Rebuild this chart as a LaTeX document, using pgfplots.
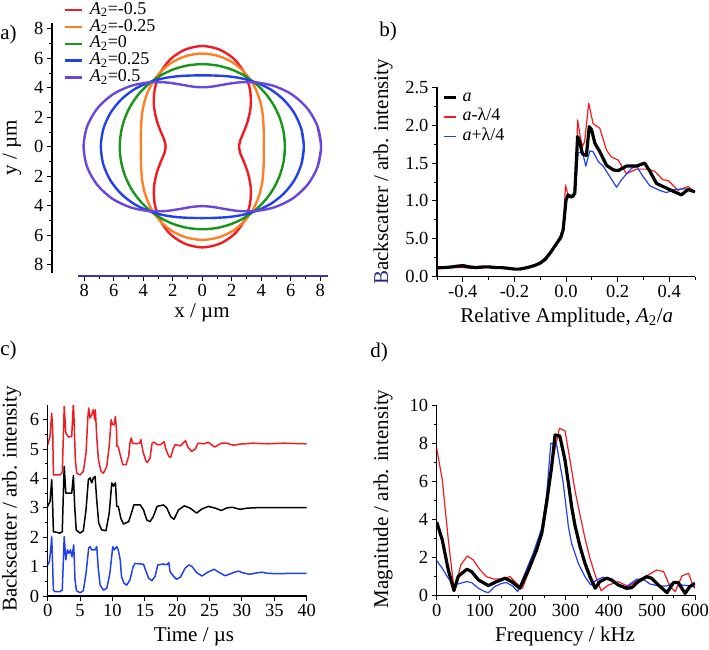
\documentclass[border=0pt]{standalone}
\usepackage{fontspec}
\setmainfont{Liberation Serif}
\usepackage{pgfplots}
\pgfplotsset{compat=1.18}
\usepackage{pgfplotstable}

\definecolor{cR}{RGB}{240,28,36}
\definecolor{cO}{RGB}{255,127,39}
\definecolor{cG}{RGB}{25,150,25}
\definecolor{cB}{RGB}{35,65,235}
\definecolor{cP}{RGB}{105,70,220}
\definecolor{cNavy}{RGB}{40,40,130}
\definecolor{cAx}{RGB}{60,60,150}

\newcommand{\tfont}{\fontsize{18.5}{18.5}\selectfont}
\newcommand{\lfont}{\fontsize{21}{21}\selectfont}

\pgfplotstableread{
t r1 r2 r3 r4 r5
-10 2.62 4.23 5.60 6.82 7.93
0 2.49 4.16 5.60 6.88 8.05
10 2.62 4.23 5.60 6.82 7.93
20 3.00 4.41 5.60 6.64 7.58
30 3.57 4.70 5.60 6.37 7.05
40 4.28 5.05 5.60 6.04 6.39
50 5.03 5.43 5.60 5.68 5.69
60 5.74 5.78 5.60 5.35 5.04
70 6.32 6.07 5.60 5.08 4.50
80 6.69 6.25 5.60 4.90 4.15
90 6.83 6.32 5.60 4.84 4.03
100 6.69 6.25 5.60 4.90 4.15
110 6.32 6.07 5.60 5.08 4.50
120 5.74 5.78 5.60 5.35 5.04
130 5.03 5.43 5.60 5.68 5.69
140 4.28 5.05 5.60 6.04 6.39
150 3.57 4.70 5.60 6.37 7.05
160 3.00 4.41 5.60 6.64 7.58
170 2.62 4.23 5.60 6.82 7.93
180 2.49 4.16 5.60 6.88 8.05
190 2.62 4.23 5.60 6.82 7.93
200 3.00 4.41 5.60 6.64 7.58
210 3.57 4.70 5.60 6.37 7.05
220 4.28 5.05 5.60 6.04 6.39
230 5.03 5.43 5.60 5.68 5.69
240 5.74 5.78 5.60 5.35 5.04
250 6.32 6.07 5.60 5.08 4.50
260 6.69 6.25 5.60 4.90 4.15
270 6.83 6.32 5.60 4.84 4.03
280 6.69 6.25 5.60 4.90 4.15
290 6.32 6.07 5.60 5.08 4.50
300 5.74 5.78 5.60 5.35 5.04
310 5.03 5.43 5.60 5.68 5.69
320 4.28 5.05 5.60 6.04 6.39
330 3.57 4.70 5.60 6.37 7.05
340 3.00 4.41 5.60 6.64 7.58
350 2.62 4.23 5.60 6.82 7.93
360 2.49 4.16 5.60 6.88 8.05
370 2.62 4.23 5.60 6.82 7.93
}\shapes

\pgfplotsset{
  every axis/.append style={
    scale only axis,
    axis line style={-, line width=1.1pt, black},
    tick style={line width=0.9pt, black},
    tick align=outside,
    major tick length=5pt,
    minor tick length=3pt,
    tick label style={font=\tfont},
    label style={font=\lfont},
    /pgf/number format/assume math mode=true,
  }
}

\begin{document}
\begin{tikzpicture}
\useasboundingbox (0pt,0pt) rectangle (709pt,649pt);

% ---------------- panel a: data axis with x axis ----------------
\begin{axis}[
  at={(78pt,373pt)}, anchor=south west,
  width=250pt, height=253pt,
  xmin=-8.43, xmax=8.52, ymin=-8.77, ymax=8.39,
  axis x line*=bottom, axis y line=none,
  x axis line style={cAx},
  xtick={-8,-6,...,8}, xticklabels={8,6,4,2,0,2,4,6,8},
  minor xtick={-7,-5,...,7},
  xlabel={x / µm},
  xlabel style={at={(axis description cs:0.496,0)}, anchor=center, yshift=-37pt},
  clip=false,
  legend style={draw=none, fill=none, at={(axis description cs:-0.0588,1.083)}, anchor=north west,
    font=\fontsize{18}{18}\selectfont, inner sep=0pt, row sep=0.8pt,
    nodes={inner sep=0pt, text height=12pt, text depth=4pt},
    /tikz/every odd column/.append style={column sep=7pt}},
  legend cell align=left,
  legend image code/.code={\draw[#1] (0pt,0pt) -- (17pt,0pt);},
]
\addplot[cR, line width=2.4pt, smooth] table[data cs=polar, x=t, y=r1] {\shapes};
\addlegendentry{\textit{A}\textsubscript{2}=-0.5}
\addplot[cO, line width=2.4pt, smooth] table[data cs=polar, x=t, y=r2] {\shapes};
\addlegendentry{\textit{A}\textsubscript{2}=-0.25}
\addplot[cG, line width=2.4pt, smooth] table[data cs=polar, x=t, y=r3] {\shapes};
\addlegendentry{\textit{A}\textsubscript{2}=0}
\addplot[cB, line width=2.4pt, smooth] table[data cs=polar, x=t, y=r4] {\shapes};
\addlegendentry{\textit{A}\textsubscript{2}=0.25}
\addplot[cP, line width=2.4pt, smooth] table[data cs=polar, x=t, y=r5] {\shapes};
\addlegendentry{\textit{A}\textsubscript{2}=0.5}
\end{axis}

% ---------------- panel a: y axis ----------------
\begin{axis}[
  at={(52pt,376pt)}, anchor=south west,
  width=20pt, height=250pt,
  xmin=0, xmax=1, ymin=-8.56, ymax=8.39,
  axis y line*=left, axis x line=none,
  ytick={-8,-6,...,8}, yticklabels={8,6,4,2,0,2,4,6,8},
  minor ytick={-7,-5,...,7},
  ylabel={y / µm},
  ylabel style={at={(axis description cs:-2.0,0.5)}, anchor=center},
]
\addplot[draw=none, forget plot] coordinates {(0,0)};
\end{axis}

% ---------------- panel b ----------------
\begin{axis}[
  at={(437pt,372.3pt)}, anchor=south west,
  width=258pt, height=189.4pt,
  xmin=-0.5, xmax=0.5, ymin=0, ymax=2.5,
  axis lines*=left,
  xtick={-0.4,-0.2,0,0.2,0.4}, xticklabels={-0.4,-0.2,0.0,0.2,0.4},
  minor xtick={-0.5,-0.3,-0.1,0.1,0.3,0.5},
  ytick={0,0.5,1,1.5,2,2.5}, yticklabels={0.0,5.0,1.0,1.5,2.0,2.5},
  minor y tick num=1,
  xlabel={Relative Amplitude, \textit{A}\textsubscript{2}/\textit{a}},
  xlabel style={at={(axis description cs:0.503,0)}, anchor=center, yshift=-41pt},
  ylabel={{\color{cNavy}B}ackscatter / arb. intensity},
  ylabel style={at={(axis description cs:-0.209,0.553)}, anchor=center},
  legend style={draw=none, fill=none, at={(axis description cs:0.023,0.995)}, anchor=north west,
    font=\fontsize{18}{18}\selectfont, inner sep=0pt, row sep=1.5pt,
    nodes={inner sep=0pt, text height=13pt, text depth=5pt},
    /tikz/every odd column/.append style={column sep=5pt}},
  legend cell align=left,
  legend image code/.code={\draw[#1] (0pt,0pt) -- (12pt,0pt);},
]
\addplot[cR, line width=1.2pt, line join=round, forget plot] coordinates {
(-0.5,0.10) (-0.45,0.12) (-0.42,0.12) (-0.40,0.12) (-0.35,0.11) (-0.30,0.12) (-0.25,0.11) (-0.20,0.10) (-0.15,0.12) (-0.10,0.18) (-0.06,0.33) (-0.03,0.48) (-0.01,0.64) (-0.002,1.21) (0.01,1.05) (0.03,1.05) (0.036,1.14) (0.045,2.07) (0.055,1.85) (0.064,1.72) (0.072,1.78) (0.088,2.29) (0.105,2.02) (0.131,1.96) (0.157,1.67) (0.176,1.58) (0.202,1.54) (0.234,1.36) (0.273,1.42) (0.318,1.42) (0.344,1.39) (0.376,1.28) (0.396,1.27) (0.434,1.14) (0.473,1.19) (0.5,1.12)};
\addplot[cB, line width=1.2pt, line join=round, forget plot] coordinates {
(-0.5,0.12) (-0.45,0.13) (-0.42,0.14) (-0.40,0.16) (-0.37,0.14) (-0.35,0.13) (-0.30,0.13) (-0.25,0.12) (-0.20,0.10) (-0.15,0.12) (-0.10,0.18) (-0.06,0.31) (-0.03,0.47) (-0.01,0.62) (0.0,1.02) (0.01,1.05) (0.03,1.05) (0.036,1.10) (0.047,1.64) (0.064,1.64) (0.077,1.46) (0.092,1.66) (0.105,1.65) (0.125,1.52) (0.144,1.46) (0.170,1.32) (0.196,1.18) (0.215,1.28) (0.254,1.43) (0.273,1.46) (0.299,1.32) (0.325,1.20) (0.363,1.14) (0.389,1.11) (0.421,1.15) (0.460,1.16) (0.5,1.12)};
\addplot[black, line width=3.2pt, line join=round, forget plot] coordinates {
(-0.5,0.12) (-0.47,0.12) (-0.44,0.13) (-0.42,0.14) (-0.40,0.145) (-0.38,0.13) (-0.35,0.12) (-0.32,0.13) (-0.30,0.13) (-0.27,0.12) (-0.25,0.12) (-0.22,0.11) (-0.20,0.10) (-0.18,0.10) (-0.15,0.12) (-0.12,0.15) (-0.10,0.18) (-0.08,0.23) (-0.06,0.32) (-0.05,0.37) (-0.04,0.42) (-0.03,0.47) (-0.02,0.52) (-0.011,0.62) (0.0,1.01) (0.008,1.08) (0.021,1.05) (0.034,1.10) (0.045,1.85) (0.053,1.78) (0.064,1.62) (0.079,1.60) (0.090,1.98) (0.099,1.94) (0.112,1.76) (0.131,1.65) (0.157,1.47) (0.183,1.41) (0.202,1.40) (0.234,1.46) (0.273,1.46) (0.305,1.50) (0.325,1.39) (0.351,1.23) (0.389,1.17) (0.421,1.12) (0.447,1.08) (0.473,1.15) (0.5,1.12)};
\addlegendimage{black, line width=2.4pt}
\addlegendentry{\textit{a}}
\addlegendimage{cR, line width=1.2pt}
\addlegendentry{\textit{a}-λ/4}
\addlegendimage{cB, line width=1.2pt}
\addlegendentry{\textit{a}+λ/4}
\end{axis}

% ---------------- panel c ----------------
\begin{axis}[
  at={(47.7pt,53pt)}, anchor=south west,
  width=259pt, height=191pt,
  xmin=0, xmax=40, ymin=0, ymax=6.5,
  axis lines*=left,
  xtick={0,5,...,40},
  ytick={0,1,...,6}, minor y tick num=1,
  xlabel={Time / µs},
  xlabel style={at={(axis description cs:0.565,0)}, anchor=center, yshift=-40.7pt},
  ylabel={Backscatter / arb. intensity},
  ylabel style={at={(axis description cs:-0.139,0.508)}, anchor=center},
]
\addplot[cR, line width=1.5pt, line join=round] coordinates {
(0,5.15) (0.36,5.43) (0.62,6.22) (0.77,5.66) (0.88,4.12) (1.9,4.12) (2.25,4.2) (2.45,5.66) (2.55,6.45) (2.8,5.55) (3.2,5.41) (3.71,5.43) (3.97,6.6) (4.12,5.66) (4.27,4.64) (4.48,4.18) (5.0,4.12) (5.5,4.24) (5.92,4.86) (6.18,6.0) (6.33,6.4) (6.54,6.06) (6.8,6.17) (7.05,6.34) (7.26,6.0) (7.36,6.34) (7.57,5.43) (7.83,4.64) (8.24,4.24) (8.6,4.18) (9.12,4.41) (9.5,5.09) (9.8,6.0) (10.0,5.83) (10.25,5.83) (10.46,6.11) (10.62,5.66) (10.7,5.09) (10.9,5.09) (11.2,4.8) (11.6,4.47) (12.1,4.47) (12.5,4.75) (12.7,5.2) (12.9,5.38) (13.1,5.2) (13.7,5.18) (14.2,5.2) (14.4,5.32) (14.7,4.92) (15.2,4.58) (15.4,4.55) (15.8,4.69) (16.1,5.18) (16.4,5.24) (16.9,5.15) (17.4,5.15) (18.0,5.25) (18.2,5.03) (18.7,4.75) (19.0,4.72) (19.4,5.03) (19.7,5.15) (20.5,5.11) (21.3,5.29) (21.6,5.09) (22.2,4.92) (22.8,5.0) (23.2,5.2) (24.1,5.18) (24.8,5.23) (25.8,5.07) (26.8,5.2) (27.7,5.2) (28.7,5.13) (29.7,5.17) (31.8,5.2) (33.9,5.18) (36.4,5.2) (40,5.18)};
\addplot[black, line width=1.5pt, line join=round] coordinates {
(0,3.05) (0.36,3.22) (0.62,3.96) (0.77,3.05) (0.88,2.19) (1.9,2.14) (2.25,2.19) (2.42,3.5) (2.55,4.41) (2.8,3.5) (3.71,3.5) (3.97,4.1) (4.17,3.05) (4.4,2.25) (5.0,2.14) (5.5,2.22) (5.92,2.93) (6.28,3.96) (6.54,4.02) (6.8,3.85) (7.05,4.02) (7.31,4.07) (7.57,3.27) (7.88,2.48) (8.34,2.25) (9.0,2.22) (9.5,2.82) (9.9,3.85) (10.15,3.74) (10.46,3.85) (10.67,3.05) (10.9,3.05) (11.3,2.64) (11.7,2.45) (12.5,2.53) (13.0,2.87) (13.3,3.1) (14.3,3.1) (14.8,2.93) (15.3,2.59) (15.8,2.53) (16.3,2.7) (16.9,3.05) (17.3,3.07) (17.9,3.1) (18.4,2.99) (19.0,2.7) (19.5,2.61) (20.2,2.93) (21.1,3.07) (22.0,2.99) (23.0,2.82) (23.8,2.96) (24.8,3.05) (25.9,2.99) (26.8,2.91) (27.7,3.0) (28.5,3.02) (29.7,2.95) (30.8,2.99) (32.8,3.01) (35.9,3.01) (40,3.01)};
\addplot[cB, line width=1.5pt, line join=round] coordinates {
(0,1.05) (0.26,1.17) (0.46,1.57) (0.62,2.02) (0.77,1.0) (0.88,0.2) (1.13,0.15) (1.9,0.15) (2.25,0.2) (2.42,1.23) (2.55,2.02) (2.8,1.23) (3.05,1.57) (3.3,1.45) (3.5,1.57) (3.75,1.34) (4.02,1.74) (4.22,0.55) (4.45,0.18) (5.0,0.11) (5.5,0.18) (5.92,0.77) (6.33,1.63) (6.54,1.68) (6.8,1.57) (7.31,1.57) (7.57,1.68) (7.83,0.89) (8.1,0.37) (8.6,0.2) (9.12,0.26) (9.6,0.77) (10.05,1.68) (10.25,1.57) (10.67,1.68) (10.9,1.57) (11.2,1.23) (11.4,0.66) (11.8,0.43) (12.2,0.37) (12.7,0.55) (13.2,1.0) (13.5,1.11) (14.8,1.08) (15.1,0.89) (15.6,0.6) (16.1,0.52) (16.6,0.68) (17.0,1.06) (17.9,1.09) (18.4,1.06) (18.7,1.14) (18.9,0.83) (19.4,0.68) (19.9,0.57) (20.5,0.64) (21.2,0.94) (21.8,1.06) (22.3,1.0) (23.0,0.8) (23.8,0.68) (24.8,0.82) (25.7,0.91) (26.5,0.8) (27.4,0.69) (28.5,0.78) (29.4,0.85) (30.3,0.78) (31.2,0.74) (32.1,0.78) (33.0,0.81) (34.0,0.77) (35.5,0.76) (37.5,0.77) (40,0.77)};
\end{axis}

% ---------------- panel d ----------------
\begin{axis}[
  at={(436.7pt,53.7pt)}, anchor=south west,
  width=258.3pt, height=190pt,
  xmin=0, xmax=600, ymin=0, ymax=10,
  axis lines*=left,
  xtick={0,100,...,600}, minor x tick num=1,
  ytick={0,2,...,10}, minor y tick num=1,
  xlabel={Frequency / kHz},
  xlabel style={at={(axis description cs:0.497,0)}, anchor=center, yshift=-41.4pt},
  ylabel={Magnitude / arb. intensity},
  ylabel style={at={(axis description cs:-0.208,0.507)}, anchor=center},
]
\addplot[cR, line width=1.2pt, line join=round] coordinates {
(0,7.74) (13,6.07) (27,2.91) (41,0.19) (56,1.6) (71,2.07) (85,1.86) (101,1.33) (116,0.98) (132,0.86) (151,0.86) (170,0.98) (190,0.54) (199,0.37) (217,1.42) (232,2.3) (248,3.53) (259,5.19) (271,7.3) (285,8.79) (298,8.66) (309.6,7.12) (321,5.54) (333,4.23) (344.5,2.99) (356,1.95) (368,1.07) (382,0.24) (398.7,0.54) (422,0.72) (445,0.46) (468,0.81) (491,1.07) (511,1.33) (527,1.25) (542,0.46) (554,0.19) (569.7,1.02) (585,1.16) (596,0.46) (600,0.37)};
\addplot[cB, line width=1.2pt, line join=round] coordinates {
(0,1.82) (13,1.42) (27,0.9) (41,0.54) (54,0.63) (69.6,0.72) (81,0.67) (97,0.37) (112,0.19) (120,0.14) (135,0.46) (151,0.63) (162,0.67) (178,0.46) (188,0.19) (205,1.16) (224,2.21) (244,3.53) (255,5.19) (265,8.0) (278,8.0) (294,5.89) (306,3.6) (313.5,2.72) (329,1.68) (344.5,0.98) (358,0.54) (371,0.81) (387,0.95) (402,0.81) (422,0.54) (437,0.4) (464,0.84) (480,0.84) (495,0.6) (515,0.49) (535,0.49) (554,0.72) (569.7,0.54) (600,0.46)};
\addplot[black, line width=3.2pt, line join=round] coordinates {
(0,3.85) (13,2.91) (27,1.33) (40,0.25) (50,1.0) (70,1.37) (81,1.25) (97,0.81) (120,0.51) (139,0.72) (159,0.9) (174,0.72) (193,0.37) (213,1.33) (232,2.39) (244,3.26) (255,4.84) (267,6.77) (275,8.44) (286,8.38) (298,7.12) (306,5.89) (313.5,4.66) (321,3.70) (333,2.56) (344.5,1.68) (356,0.98) (368,0.37) (379,0.72) (395,0.9) (406,0.81) (422,0.54) (441,0.37) (453,0.4) (468,0.72) (488,0.98) (499,0.9) (515,0.54) (535,0.14) (550,0.67) (561,0.67) (577,0.1) (588,0.46) (600,0.63)};
\end{axis}

\node[font=\lfont, inner sep=0pt] at (8.5pt,615pt) {a)};
\node[font=\lfont, inner sep=0pt] at (388pt,618pt) {b)};
\node[font=\lfont, inner sep=0pt] at (8.5pt,299pt) {c)};
\node[font=\lfont, inner sep=0pt] at (379pt,297pt) {d)};
\end{tikzpicture}
\end{document}
